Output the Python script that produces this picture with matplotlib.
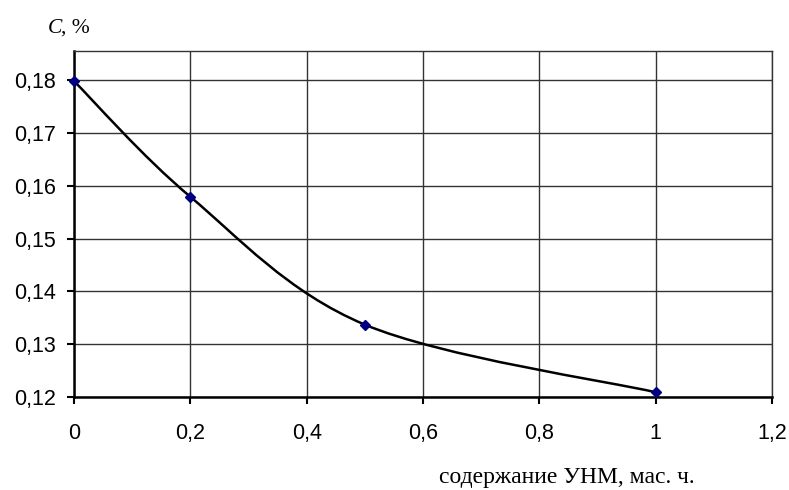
import numpy as np
import matplotlib.pyplot as plt
from matplotlib.path import Path
from matplotlib.patches import PathPatch

# data
x_vals = [0.0, 0.2, 0.5, 1.0]
c_vals = [0.1798, 0.1579, 0.1337, 0.1209]
x_ticks = [0, 0.2, 0.4, 0.6, 0.8, 1.0, 1.2]
y_ticks = [0.12, 0.13, 0.14, 0.15, 0.16, 0.17, 0.18]


def fmt(v):
    s = ('%g' % round(v, 3))
    return s.replace('.', ',')


def smooth_path(xs, ys):
    # Excel-like smoothed line (Catmull-Rom as cubic Bezier)
    p = np.column_stack([xs, ys])
    pts = np.vstack([p[0], p, p[-1]])
    verts = [tuple(p[0])]
    codes = [Path.MOVETO]
    for i in range(1, len(pts) - 2):
        c1 = pts[i] + (pts[i + 1] - pts[i - 1]) / 6
        c2 = pts[i + 1] - (pts[i + 2] - pts[i]) / 6
        verts += [tuple(c1), tuple(c2), tuple(pts[i + 1])]
        codes += [Path.CURVE4] * 3
    return Path(verts, codes)


fig = plt.figure(figsize=(7.89, 4.9), dpi=100)
ax = fig.add_axes([74 / 789, 1 - 397 / 490, (772 - 74) / 789, (397 - 51) / 490])

ax.set_xlim(0, 1.2)
ax.set_ylim(0.12, 0.12 + (397 - 51) / 52.83 * 0.01)

ax.set_xticks(x_ticks)
ax.set_yticks(y_ticks)
ax.set_xticklabels([fmt(v) for v in x_ticks], family='Liberation Sans', fontsize=15.5)
ax.set_yticklabels([fmt(v) for v in y_ticks], family='Liberation Sans', fontsize=15.5)
ax.tick_params(direction='out', length=5, width=1.5, colors='black')
ax.tick_params(axis='y', pad=8)
ax.tick_params(axis='x', pad=14)

ax.grid(True, color='#333333', linewidth=1)
ax.set_axisbelow(True)
for side in ['top', 'right']:
    ax.spines[side].set_linewidth(1)
    ax.spines[side].set_color('#333333')
for side in ['left', 'bottom']:
    ax.spines[side].set_linewidth(1.8)

ax.add_patch(PathPatch(smooth_path(x_vals, c_vals), facecolor='none',
                       edgecolor='black', linewidth=1.8, zorder=3))
ax.plot(x_vals, c_vals, linestyle='none', marker='D', markersize=5,
        color='#000080', zorder=4, clip_on=False)

fig.text(48 / 789, 1 - 33 / 490, 'C', fontsize=15.5, family='Liberation Serif',
         style='italic', va='baseline', ha='left')
fig.text(61 / 789, 1 - 33 / 490, ', %', fontsize=15.5, family='Liberation Serif',
         va='baseline', ha='left')
fig.text(567 / 789, 1 - 483 / 490, 'содержание УНМ, мас. ч.', fontsize=17,
         family='Liberation Serif', va='baseline', ha='center')

fig.savefig('out.png', dpi=100)
